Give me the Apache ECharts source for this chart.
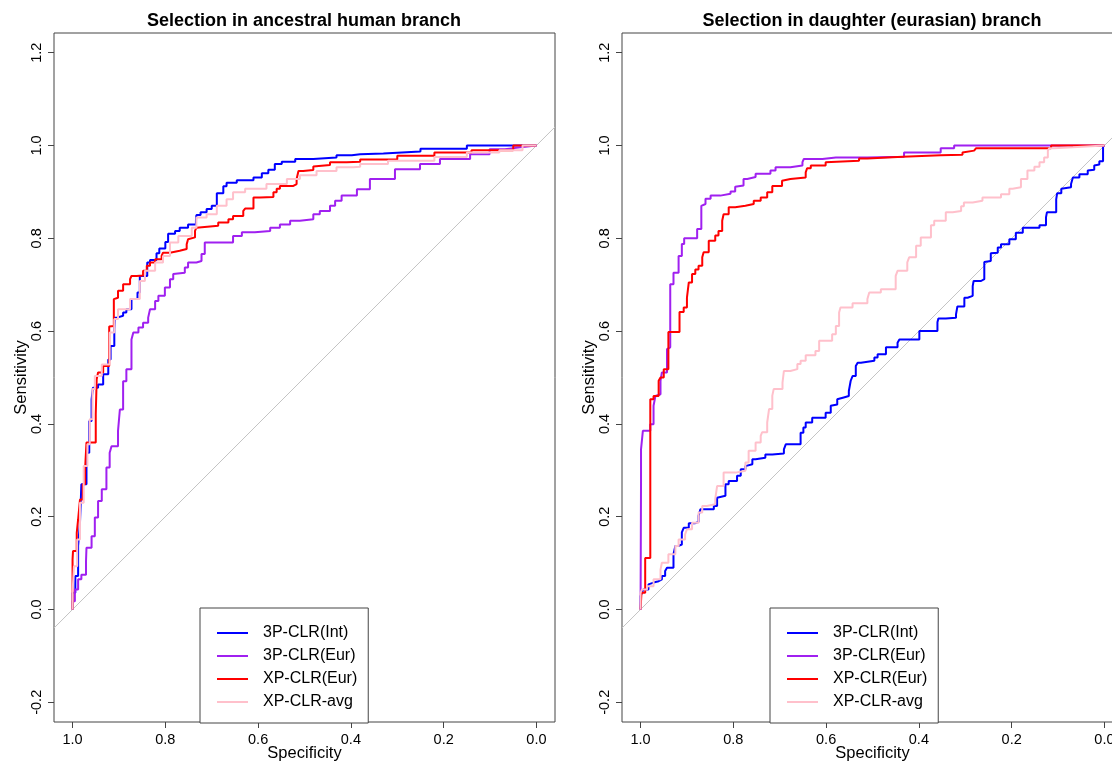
<!DOCTYPE html>
<html>
<head>
    <meta charset="utf-8">
    <title>ROC curves</title>
    <script src="https://cdn.jsdelivr.net/npm/echarts@6.0.0/dist/echarts.min.js"></script>
    <style>
        body { margin: 0; background: #fff; }
    </style>
</head>
<body>
    <div id="main" style="width: 1112px;height:765px;"></div>
    <script type="text/javascript">
        // curve points: [specificity, sensitivity]
        var seriesNames = ['3P-CLR(Int)', '3P-CLR(Eur)', 'XP-CLR(Eur)', 'XP-CLR-avg'];
        var seriesColors = ['#0000ff', '#a020f0', '#ff0000', '#ffc0cb'];
        var panelTitles = ['Selection in ancestral human branch', 'Selection in daughter (eurasian) branch'];
        var xTicks = [0, 0.2, 0.4, 0.6, 0.8, 1.0];
        var yTicks = [-0.2, 0, 0.2, 0.4, 0.6, 0.8, 1.0, 1.2];

        // ancestral panel
        var ancInt = [[1,0],[0.994,0.036],[0.988,0.072],[0.984,0.137],[0.981,0.187],[0.970,0.27],[0.964,0.338],[0.959,0.406],[0.956,0.453],[0.945,0.478],[0.934,0.485],[0.923,0.507],[0.918,0.539],[0.910,0.568],[0.909,0.604],[0.904,0.629],[0.891,0.633],[0.884,0.640],[0.873,0.647],[0.860,0.669],[0.855,0.683],[0.855,0.705],[0.839,0.719],[0.833,0.748],[0.819,0.753],[0.813,0.768],[0.800,0.778],[0.794,0.792],[0.779,0.810],[0.769,0.816],[0.751,0.823],[0.734,0.830],[0.733,0.838],[0.724,0.850],[0.711,0.856],[0.700,0.863],[0.689,0.870],[0.689,0.888],[0.675,0.897],[0.668,0.912],[0.646,0.920],[0.639,0.925],[0.610,0.925],[0.592,0.931],[0.578,0.940],[0.564,0.948],[0.549,0.960],[0.520,0.965],[0.481,0.971],[0.431,0.974],[0.398,0.979],[0.380,0.981],[0.33,0.983],[0.25,0.987],[0.15,0.993],[0.08,1.0],[0,1]];
        var ancEur = [[1,0],[0.995,0.018],[0.988,0.043],[0.981,0.065],[0.971,0.075],[0.970,0.104],[0.959,0.133],[0.952,0.158],[0.945,0.198],[0.937,0.234],[0.927,0.259],[0.920,0.306],[0.916,0.338],[0.902,0.352],[0.898,0.385],[0.891,0.431],[0.884,0.492],[0.873,0.518],[0.869,0.582],[0.858,0.597],[0.848,0.608],[0.837,0.618],[0.833,0.629],[0.822,0.647],[0.815,0.665],[0.801,0.676],[0.790,0.694],[0.783,0.712],[0.779,0.723],[0.758,0.726],[0.751,0.737],[0.733,0.748],[0.722,0.751],[0.715,0.766],[0.704,0.791],[0.654,0.791],[0.635,0.805],[0.607,0.813],[0.574,0.816],[0.553,0.823],[0.531,0.830],[0.510,0.838],[0.481,0.841],[0.467,0.852],[0.445,0.859],[0.434,0.870],[0.420,0.881],[0.387,0.892],[0.359,0.906],[0.305,0.928],[0.251,0.949],[0.208,0.960],[0.143,0.971],[0.101,0.981],[0.068,0.992],[0.035,0.996],[0,1]];
        var ancXp = [[1,0],[1.0,0.043],[0.999,0.108],[0.991,0.126],[0.988,0.165],[0.984,0.194],[0.978,0.237],[0.973,0.270],[0.970,0.302],[0.961,0.360],[0.950,0.360],[0.948,0.421],[0.945,0.496],[0.934,0.511],[0.921,0.525],[0.920,0.610],[0.911,0.611],[0.909,0.669],[0.902,0.672],[0.891,0.687],[0.876,0.701],[0.873,0.712],[0.862,0.719],[0.848,0.720],[0.840,0.730],[0.833,0.741],[0.822,0.748],[0.808,0.755],[0.805,0.762],[0.790,0.769],[0.769,0.773],[0.754,0.777],[0.751,0.787],[0.747,0.798],[0.736,0.802],[0.733,0.816],[0.729,0.823],[0.686,0.827],[0.664,0.834],[0.654,0.841],[0.632,0.848],[0.628,0.859],[0.610,0.864],[0.596,0.888],[0.567,0.889],[0.560,0.899],[0.553,0.907],[0.524,0.913],[0.517,0.917],[0.513,0.928],[0.503,0.945],[0.481,0.947],[0.477,0.955],[0.445,0.958],[0.409,0.964],[0.380,0.965],[0.30,0.970],[0.22,0.978],[0.14,0.985],[0.05,0.99],[0,1]];
        var ancAvg = [[1,0],[0.997,0.036],[0.990,0.093],[0.984,0.151],[0.976,0.230],[0.968,0.309],[0.963,0.356],[0.957,0.410],[0.952,0.475],[0.937,0.503],[0.920,0.528],[0.910,0.597],[0.902,0.626],[0.876,0.647],[0.855,0.669],[0.844,0.708],[0.822,0.730],[0.805,0.748],[0.790,0.762],[0.772,0.791],[0.743,0.805],[0.733,0.823],[0.711,0.845],[0.689,0.852],[0.668,0.870],[0.654,0.884],[0.628,0.899],[0.582,0.907],[0.538,0.917],[0.510,0.928],[0.474,0.936],[0.431,0.945],[0.395,0.953],[0.380,0.954],[0.32,0.96],[0.22,0.967],[0.15,0.975],[0.08,0.985],[0.03,0.99],[0,1]];

        // daughter panel
        var dauInt = [[1,0],[0.997,0.029],[0.994,0.036],[0.983,0.043],[0.983,0.054],[0.972,0.058],[0.961,0.061],[0.954,0.065],[0.947,0.072],[0.943,0.083],[0.929,0.090],[0.925,0.119],[0.918,0.137],[0.911,0.140],[0.907,0.166],[0.896,0.176],[0.882,0.186],[0.875,0.189],[0.871,0.202],[0.860,0.216],[0.842,0.216],[0.835,0.223],[0.831,0.241],[0.817,0.245],[0.810,0.270],[0.792,0.277],[0.784,0.288],[0.774,0.302],[0.770,0.309],[0.759,0.313],[0.752,0.324],[0.731,0.327],[0.716,0.334],[0.691,0.336],[0.687,0.345],[0.655,0.356],[0.649,0.381],[0.644,0.392],[0.630,0.403],[0.619,0.413],[0.601,0.413],[0.590,0.424],[0.587,0.439],[0.576,0.442],[0.572,0.453],[0.562,0.457],[0.551,0.460],[0.547,0.471],[0.543,0.493],[0.536,0.503],[0.532,0.525],[0.525,0.532],[0.496,0.536],[0.489,0.543],[0.471,0.550],[0.467,0.565],[0.446,0.565],[0.442,0.575],[0.428,0.582],[0.399,0.582],[0.397,0.600],[0.360,0.600],[0.358,0.619],[0.342,0.627],[0.320,0.629],[0.317,0.636],[0.302,0.653],[0.295,0.672],[0.284,0.676],[0.282,0.697],[0.266,0.708],[0.259,0.712],[0.259,0.749],[0.245,0.751],[0.243,0.768],[0.230,0.769],[0.223,0.780],[0.205,0.787],[0.191,0.798],[0.176,0.812],[0.169,0.823],[0.140,0.823],[0.126,0.828],[0.124,0.845],[0.104,0.856],[0.102,0.884],[0.093,0.897],[0.090,0.907],[0.072,0.910],[0.068,0.917],[0.054,0.931],[0.036,0.938],[0.032,0.946],[0.022,0.948],[0.018,0.957],[0.011,0.959],[0.003,0.966],[0.003,0.998],[0,1]];
        var dauEur = [[1,0],[0.999,0],[0.999,0.273],[0.995,0.345],[0.990,0.385],[0.979,0.385],[0.972,0.399],[0.968,0.439],[0.965,0.460],[0.957,0.464],[0.954,0.493],[0.943,0.511],[0.940,0.561],[0.936,0.565],[0.936,0.683],[0.929,0.701],[0.918,0.726],[0.911,0.762],[0.906,0.788],[0.893,0.800],[0.878,0.800],[0.877,0.820],[0.869,0.820],[0.869,0.870],[0.860,0.874],[0.849,0.885],[0.828,0.892],[0.806,0.896],[0.796,0.901],[0.793,0.911],[0.778,0.914],[0.770,0.928],[0.752,0.932],[0.720,0.939],[0.709,0.946],[0.677,0.953],[0.651,0.957],[0.648,0.964],[0.608,0.971],[0.579,0.974],[0.511,0.974],[0.432,0.976],[0.432,0.979],[0.353,0.985],[0.324,0.994],[0.144,1.0],[0,1]];
        var dauXp = [[1,0],[0.998,0],[0.998,0.036],[0.990,0.036],[0.990,0.111],[0.979,0.111],[0.979,0.446],[0.972,0.453],[0.961,0.460],[0.957,0.493],[0.950,0.500],[0.940,0.518],[0.936,0.598],[0.916,0.598],[0.916,0.619],[0.907,0.641],[0.900,0.651],[0.896,0.672],[0.889,0.705],[0.882,0.723],[0.875,0.733],[0.867,0.741],[0.864,0.759],[0.853,0.770],[0.839,0.795],[0.832,0.806],[0.824,0.816],[0.821,0.838],[0.810,0.852],[0.796,0.867],[0.774,0.870],[0.756,0.874],[0.741,0.881],[0.727,0.888],[0.716,0.899],[0.695,0.913],[0.691,0.924],[0.677,0.928],[0.644,0.931],[0.641,0.942],[0.633,0.951],[0.601,0.957],[0.597,0.964],[0.529,0.967],[0.511,0.972],[0.435,0.976],[0.353,0.979],[0.306,0.980],[0.303,0.985],[0.281,0.989],[0.277,0.992],[0.115,0.994],[0.115,0.998],[0,1]];
        var dauAvg = [[1,0],[0.997,0.036],[0.986,0.043],[0.972,0.050],[0.957,0.065],[0.954,0.086],[0.940,0.101],[0.936,0.119],[0.925,0.119],[0.918,0.137],[0.904,0.151],[0.900,0.162],[0.889,0.173],[0.875,0.187],[0.867,0.209],[0.857,0.223],[0.839,0.227],[0.835,0.238],[0.821,0.266],[0.813,0.295],[0.795,0.295],[0.774,0.299],[0.767,0.317],[0.752,0.342],[0.741,0.360],[0.738,0.374],[0.727,0.382],[0.723,0.403],[0.716,0.432],[0.713,0.461],[0.694,0.475],[0.691,0.489],[0.677,0.514],[0.662,0.518],[0.655,0.529],[0.644,0.536],[0.623,0.548],[0.615,0.557],[0.615,0.579],[0.587,0.579],[0.579,0.593],[0.572,0.611],[0.569,0.640],[0.543,0.651],[0.511,0.660],[0.507,0.669],[0.482,0.683],[0.450,0.690],[0.446,0.719],[0.425,0.730],[0.421,0.748],[0.406,0.759],[0.396,0.784],[0.374,0.802],[0.367,0.828],[0.342,0.838],[0.327,0.856],[0.309,0.859],[0.303,0.869],[0.284,0.877],[0.263,0.881],[0.223,0.888],[0.205,0.895],[0.198,0.907],[0.180,0.910],[0.166,0.928],[0.151,0.946],[0.140,0.954],[0.130,0.964],[0.122,0.974],[0.119,0.989],[0.108,0.994],[0.068,0.996],[0,1]];

        // chance line spans the whole axis range
        var xMin = -0.04, xMax = 1.04, yMin = -0.2425, yMax = 1.2425;
        var diagonal = [[xMax, 1 - xMax], [xMin, 1 - xMin]];

        var panels = [[ancInt, ancEur, ancXp, ancAvg], [dauInt, dauEur, dauXp, dauAvg]];
        var gridLefts = [54, 622];
        var font = '"Liberation Sans", Arial, Helvetica, sans-serif';

        var myChart = echarts.init(document.getElementById("main"));

        var option = {
            animation: false,
            backgroundColor: '#fff',
            textStyle: { fontFamily: font },
            title: [],
            legend: [],
            grid: [],
            xAxis: [],
            yAxis: [],
            series: []
        };

        panels.forEach(function (curves, p) {
            option.title.push({
                text: panelTitles[p],
                left: gridLefts[p] + 250,
                top: 12,
                padding: 0,
                textAlign: 'center',
                textStyle: { fontFamily: font, fontSize: 18, fontWeight: 'bold', color: '#000' }
            });
            option.grid.push({
                left: gridLefts[p], top: 33, width: 501, height: 689,
                outerBoundsMode: 'none', containLabel: false,
                show: true, borderColor: '#444', borderWidth: 1
            });
            option.xAxis.push({
                type: 'value', gridIndex: p, inverse: true, min: xMin, max: xMax,
                name: 'Specificity', nameLocation: 'middle', nameGap: 23, nameMoveOverlap: false,
                nameTextStyle: { fontFamily: font, fontSize: 16.5, color: '#000' },
                axisLine: { show: false, onZero: false },
                splitLine: { show: false },
                axisTick: { show: true, length: 6, customValues: xTicks, lineStyle: { color: '#444' } },
                axisLabel: {
                    customValues: xTicks, margin: 10, fontFamily: font, fontSize: 14.5, color: '#000',
                    formatter: function (v) { return v.toFixed(1); }
                }
            });
            option.yAxis.push({
                type: 'value', gridIndex: p, min: yMin, max: yMax,
                name: 'Sensitivity', nameLocation: 'middle', nameGap: 24, nameMoveOverlap: false,
                nameTextStyle: { fontFamily: font, fontSize: 16.5, color: '#000' },
                axisLine: { show: false, onZero: false },
                splitLine: { show: false },
                axisTick: { show: true, length: 6, customValues: yTicks, lineStyle: { color: '#444' } },
                axisLabel: {
                    customValues: yTicks, rotate: 90, margin: 10, fontFamily: font, fontSize: 14.5, color: '#000',
                    formatter: function (v) { return v.toFixed(1); }
                }
            });
            option.legend.push({
                data: seriesNames,
                orient: 'vertical',
                left: p === 0 ? 200 : 770,
                top: 608,
                padding: [17, 11, 13, 16],
                itemGap: 7,
                itemWidth: 31,
                itemHeight: 16,
                itemStyle: { opacity: 0 },
                borderColor: '#444',
                borderWidth: 1,
                backgroundColor: '#fff',
                textStyle: { fontFamily: font, fontSize: 16, color: '#000', padding: [0, 0, 0, 10] }
            });
            option.series.push({
                type: 'line', name: 'chance', xAxisIndex: p, yAxisIndex: p,
                data: diagonal, symbol: 'none', silent: true,
                lineStyle: { color: '#c4c4c4', width: 1 }
            });
            curves.forEach(function (pts, i) {
                option.series.push({
                    type: 'line', name: seriesNames[i], xAxisIndex: p, yAxisIndex: p,
                    data: pts, symbol: 'none', step: 'start',
                    color: seriesColors[i],
                    lineStyle: { color: seriesColors[i], width: 2 }
                });
            });
        });

        myChart.setOption(option);
    </script>
</body>
</html>
